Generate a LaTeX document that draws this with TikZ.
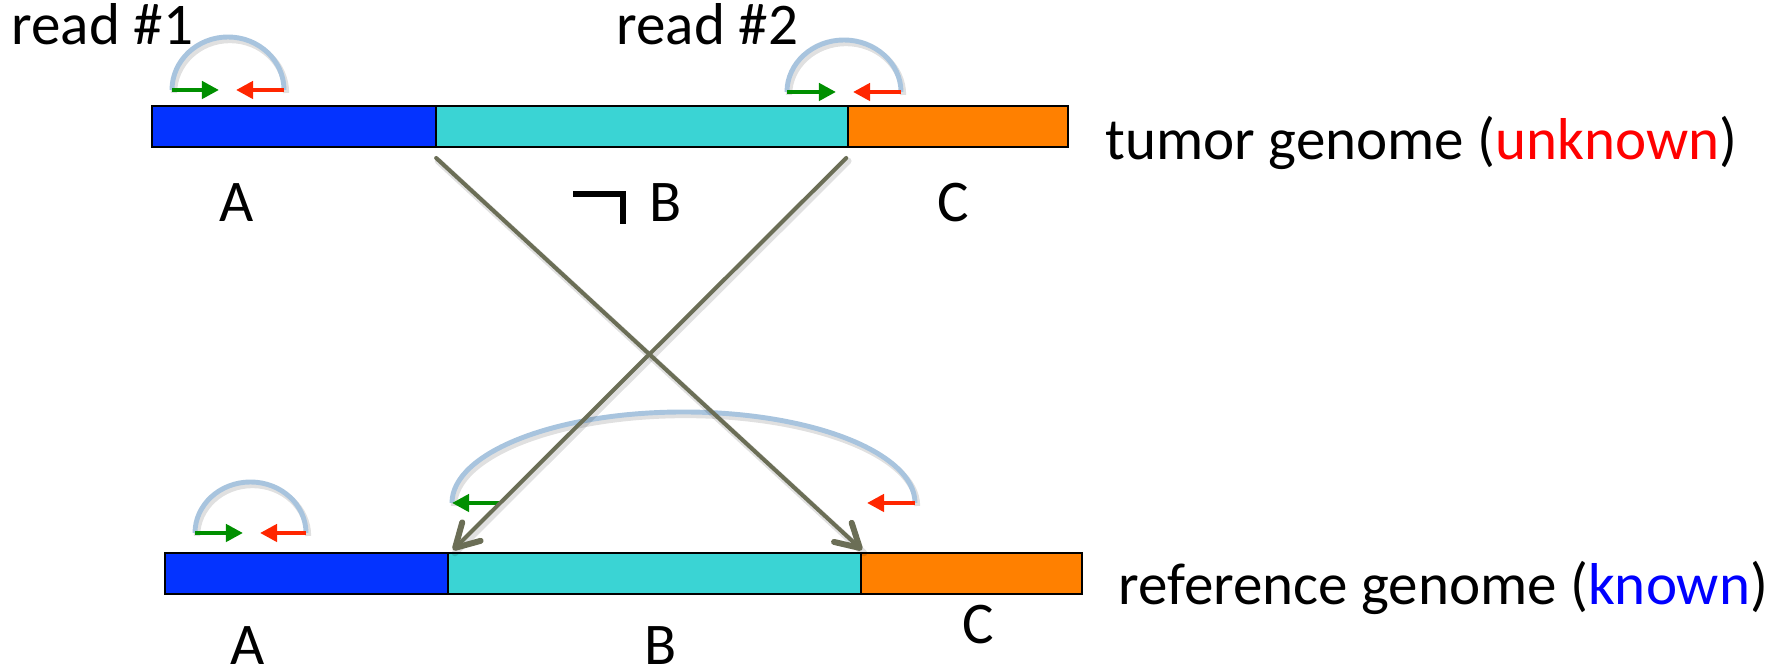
\documentclass[tikz,border=0pt]{standalone}
\usepackage{fontspec}
\setmainfont{Carlito}
\usetikzlibrary{arrows.meta,calc}
\definecolor{segA}{RGB}{4,51,255}
\definecolor{segB}{RGB}{58,212,212}
\definecolor{segC}{RGB}{255,128,0}
\definecolor{arcc}{RGB}{168,196,222}
\definecolor{greenA}{RGB}{0,143,0}
\definecolor{redA}{RGB}{255,38,0}
\definecolor{linkc}{RGB}{107,110,86}
\definecolor{unk}{RGB}{255,0,0}
\definecolor{kno}{RGB}{0,0,255}
\begin{document}
\begin{tikzpicture}[x=0.01cm,y=-0.01cm,
  seg/.style={draw=black,line width=0.6pt,inner sep=0pt,outer sep=0pt,
    anchor=north west,minimum height=0.41cm},
  lbl/.style={font=\fontsize{16.8}{20}\selectfont,inner sep=0pt,anchor=base west},
  pairarc/.style={draw=arcc,line width=1.4pt},
  shade/.style={draw=black,opacity=0.12,line width=1.8pt},
  fwd/.style={draw=greenA,line width=1.3pt,-{Triangle[length=0.17cm,width=0.17cm]}},
  rev/.style={draw=redA,line width=1.3pt,-{Triangle[length=0.17cm,width=0.17cm]}},
  link/.style={draw=linkc,line width=1.15pt,line cap=round,
    -{Straight Barb[length=0.23cm,width=0.26cm,line width=1.7pt,round]}},
  linkshade/.style={draw=black,opacity=0.12,line width=1.9pt,line cap=round},
]
\useasboundingbox (0,0) rectangle (1771,671);

% tumor genome segments
\node[seg,fill=segA,minimum width=2.84cm] (tA) at (152,106) {};
\node[seg,fill=segB,minimum width=4.12cm] (tB) at (436,106) {};
\node[seg,fill=segC,minimum width=2.20cm] (tC) at (848,106) {};

% reference genome segments
\node[seg,fill=segA,minimum width=2.83cm] (rA) at (165,553) {};
\node[seg,fill=segB,minimum width=4.13cm] (rB) at (448,553) {};
\node[seg,fill=segC,minimum width=2.21cm] (rC) at (861,553) {};

% read end points
\coordinate (p1g) at (172,90);
\coordinate (p1r) at (284,90);
\coordinate (p2g) at (787,92);
\coordinate (p2r) at (901,92);
\coordinate (p3g) at (195,533);
\coordinate (p3r) at (306,533);
\coordinate (p4g) at (452,503);
\coordinate (p4r) at (915,503);

% pairing arcs
\foreach \a/\rx/\ry in {p1g/56/53, p2g/57/52, p3g/55.5/51, p4g/231.5/91}{
  \draw[shade] ($(\a)+(2,3)$) arc[start angle=180,end angle=360,x radius=\rx,y radius=\ry];
  \draw[pairarc] (\a) arc[start angle=180,end angle=360,x radius=\rx,y radius=\ry];
}

% read directions
\draw[fwd] (p1g) -- ++(47,0);
\draw[rev] (p1r) -- ++(-48,0);
\draw[fwd] (p2g) -- ++(49,0);
\draw[rev] (p2r) -- ++(-48,0);
\draw[fwd] (p3g) -- ++(48,0);
\draw[rev] (p3r) -- ++(-46,0);
\draw[fwd] ($(p4g)+(48,0)$) -- (p4g);
\draw[rev] (p4r) -- ++(-48,0);

% mapping of the breakpoints
\coordinate (sAB) at ($(tA.south east)+(0,11)$);
\coordinate (sBC) at ($(tB.south east)+(-2,11)$);
\coordinate (eBC) at ($(rC.north west)+(1,-3)$);
\coordinate (eAB) at ($(rB.north west)+(5,-3)$);
\draw[linkshade] ($(sAB)+(2,3)$) -- ($(eBC)+(2,3)$);
\draw[linkshade] ($(sBC)+(2,3)$) -- ($(eAB)+(2,3)$);
\draw[link] (sAB) -- (eBC);
\draw[link] (sBC) -- (eAB);

% inversion mark
\draw[line width=1.7pt] (573,194) -- (623,194) -- (623,224);

% texts
\node[lbl] (read1) at (11,45) {read \#1};
\node[lbl] (read2) at (616,45) {read \#2};
\node[lbl] (tAl) at (219,222) {A};
\node[lbl] (tBl) at (649,222) {B};
\node[lbl] (tCl) at (937,222) {C};
\node[lbl] (rAl) at (230,665) {A};
\node[lbl] (rBl) at (644,665) {B};
\node[lbl] (rCl) at (962,644) {C};
\node[lbl] (tname) at (1105,160) {tumor genome (\textcolor{unk}{unknown})};
\node[lbl] (rname) at (1118,605) {reference genome (\textcolor{kno}{known})};
\end{tikzpicture}
\end{document}
